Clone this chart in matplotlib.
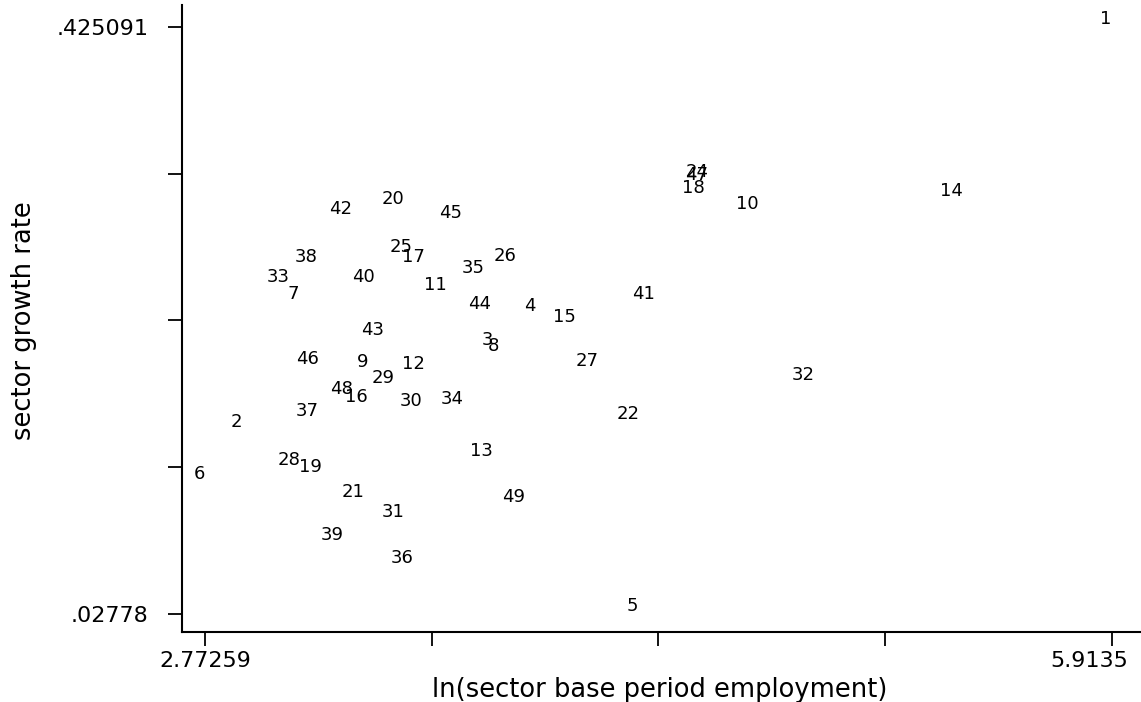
import matplotlib.pyplot as plt
from matplotlib.transforms import ScaledTranslation
import numpy as np

# sector id, ln(base period employment), growth rate
sector = [1, 2, 3, 4, 5, 6, 7, 8, 9, 10,
          11, 12, 13, 14, 15, 16, 17, 18, 19, 20,
          21, 22, 24, 25, 26, 27, 28, 29, 30, 31,
          32, 33, 34, 35, 36, 37, 38, 39, 40, 41,
          42, 43, 44, 45, 46, 47, 48, 49]
ln_emp = [5.9135, 2.9007, 3.7699, 3.9188, 4.2721, 2.77259, 3.0981, 3.7907, 3.3405, 4.6703,
          3.5899, 3.5137, 3.7492, 5.3767, 4.0366, 3.3163, 3.5137, 4.4833, 3.1570, 3.4444,
          3.3059, 4.2582, 4.4971, 3.4721, 3.8323, 4.1162, 3.0843, 3.4098, 3.5067, 3.4444,
          4.8642, 3.0462, 3.6487, 3.7214, 3.4756, 3.1466, 3.1431, 3.2332, 3.3405, 4.3102,
          3.2643, 3.3752, 3.7457, 3.6453, 3.1466, 4.4971, 3.2643, 3.8634]
growth = [0.425091, 0.1523, 0.2078, 0.2308, 0.02778, 0.1171, 0.2390, 0.2038, 0.1929, 0.2999,
          0.2450, 0.1916, 0.1327, 0.3087, 0.2234, 0.1692, 0.2640, 0.3107, 0.1219, 0.3033,
          0.1049, 0.1577, 0.3215, 0.2708, 0.2647, 0.1936, 0.1266, 0.1821, 0.1665, 0.0914,
          0.1841, 0.2505, 0.1679, 0.2566, 0.0603, 0.1598, 0.2640, 0.0758, 0.2505, 0.2390,
          0.2965, 0.2146, 0.2322, 0.2938, 0.1950, 0.3195, 0.1747, 0.1016]

x_min, x_max = 2.77259, 5.9135
y_min, y_max = 0.02778, 0.425091
x_ticklabels = ['2.77259', '', '', '', '5.9135']
y_ticklabels = ['.02778', '', '', '', '.425091']

plt.rcParams['font.family'] = 'DejaVu Sans'

fig = plt.figure(figsize=(11.41, 7.02), dpi=100)
ax = fig.add_axes([182/1141, 70/702, 959/1141, 627/702])

for s, x, y in zip(sector, ln_emp, growth):
    ax.annotate(str(s), (x, y), xytext=(-4.3, 5.8), textcoords='offset points',
                ha='center', va='center', fontsize=13, color='black')

ax.set_xlim(x_min - 0.0796, x_max + 0.1004)
ax.set_ylim(y_min - 0.0122, y_max + 0.0149)

ax.set_xticks(np.linspace(x_min, x_max, 5))
ax.set_xticklabels(x_ticklabels)
ax.set_yticks(np.linspace(y_min, y_max, 5))
ax.set_yticklabels(y_ticklabels)
ax.tick_params(axis='both', direction='out', length=10, width=1.3, labelsize=16, colors='black')
ax.tick_params(axis='x', pad=4)
ax.tick_params(axis='y', pad=14)

# last x label sits left of its tick so it stays inside the figure
last = ax.get_xticklabels()[-1]
last.set_transform(last.get_transform() + ScaledTranslation(-0.23, 0, fig.dpi_scale_trans))

ax.spines['top'].set_visible(False)
ax.spines['right'].set_visible(False)
ax.spines['left'].set_linewidth(1.5)
ax.spines['bottom'].set_linewidth(1.5)

ax.set_xlabel('ln(sector base period employment)', fontsize=18.5)
ax.set_ylabel('sector growth rate', fontsize=18.5)
ax.xaxis.set_label_coords(0.498, -0.0925)
ax.yaxis.set_label_coords(-0.165, 0.496)
ax.xaxis.label.set_va('center')
ax.yaxis.label.set_va('center')

plt.savefig('out.png', dpi=100)
